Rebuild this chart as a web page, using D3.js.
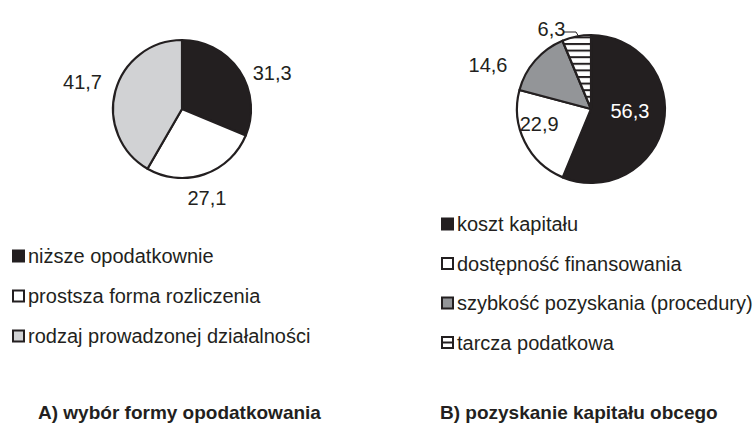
<!DOCTYPE html>
<meta charset="utf-8">
<style type="text/css">
  body { margin: 0; background: #fff; }
  svg text { font-family: "Liberation Sans", Arial, sans-serif; fill: #231f20; }
  .lbl { font-size: 20px; }
  .leg { font-size: 20px; }
  .title { font-weight: bold; font-size: 19px; }
</style>
<svg width="753" height="433"></svg>
<script src="https://d3js.org/d3.v7.min.js"></script>
<script>

var categoriesA = ["niższe opodatkownie", "prostsza forma rozliczenia", "rodzaj prowadzonej działalności"];
var valuesA = [31.3, 27.1, 41.7];
var labelsA = ["31,3", "27,1", "41,7"];

var categoriesB = ["koszt kapitału", "dostępność finansowania", "szybkość pozyskania (procedury)", "tarcza podatkowa"];
var valuesB = [56.3, 22.9, 14.6, 6.3];
var labelsB = ["56,3", "22,9", "14,6", "6,3"];

var titleA = "A) wybór formy opodatkowania";
var titleB = "B) pozyskanie kapitału obcego";

var svg = d3.select("svg");

var defs = svg.append("defs");
var pat = defs.append("pattern")
    .attr("id", "hatch")
    .attr("patternUnits", "userSpaceOnUse")
    .attr("width", 8).attr("height", 6.6);
pat.append("rect").attr("width", 8).attr("height", 6.6).attr("fill", "#fff");
pat.append("rect").attr("y", 0).attr("width", 8).attr("height", 2).attr("fill", "#231f20");

var fillsA = ["#231f20", "#ffffff", "#d1d2d4"];
var fillsB = ["#231f20", "#ffffff", "#939598", "url(#hatch)"];

var pie = d3.pie().sort(null).value(function(d) { return d; });

// label placement: [radius, angle nudge in degrees] per slice
var labPosA = [[97, 12], [92, 3], [103, 0]];
var labPosB = [[39, -8], [54, 10], [112, -18], [89, -15]];

function drawPie(cx, cy, r, values, fills, labels, labPos, inside) {
  var g = svg.append("g").attr("transform", "translate(" + cx + "," + cy + ")");
  var arc = d3.arc().innerRadius(0).outerRadius(r);
  var arcs = pie(values);
  g.selectAll("path")
    .data(arcs)
    .enter().append("path")
      .attr("d", arc)
      .attr("fill", function(d, i) { return fills[i]; })
      .attr("stroke", "#231f20")
      .attr("stroke-width", 2.2)
      .attr("stroke-linejoin", "round");
  g.selectAll("text.lbl")
    .data(arcs)
    .enter().append("text")
      .attr("class", "lbl")
      .attr("text-anchor", "middle")
      .attr("dy", "0.35em")
      .style("fill", function(d, i) { return fills[i] == "#231f20" && inside ? "#fff" : "#231f20"; })
      .attr("transform", function(d, i) {
        var a = (d.startAngle + d.endAngle) / 2 + labPos[i][1] * Math.PI / 180;
        var rr = labPos[i][0];
        return "translate(" + (rr * Math.sin(a)) + "," + (-rr * Math.cos(a)) + ")";
      })
      .text(function(d, i) { return labels[i]; });
  return g;
}

drawPie(182, 109, 69, valuesA, fillsA, labelsA, labPosA, false);
var gB = drawPie(591, 109, 74, valuesB, fillsB, labelsB, labPosB, true);

// leader for the small slice
gB.append("path")
  .attr("d", "M-27,-77 L-15,-77 L-12,-72")
  .attr("fill", "none")
  .attr("stroke", "#231f20")
  .attr("stroke-width", 1);

function drawLegend(x, y0, step, cats, fills) {
  var lg = svg.append("g").attr("transform", "translate(" + x + "," + y0 + ")");
  var row = lg.selectAll("g")
    .data(cats)
    .enter().append("g")
      .attr("transform", function(d, i) { return "translate(0," + (i * step) + ")"; });
  row.append("rect")
    .attr("x", 1).attr("y", -5.5)
    .attr("width", 11).attr("height", 11)
    .attr("fill", function(d, i) { return fills[i].indexOf("url") == 0 ? "#fff" : fills[i]; })
    .attr("stroke", "#231f20")
    .attr("stroke-width", 2);
  row.filter(function(d, i) { return fills[i].indexOf("url") == 0; })
    .append("line")
      .attr("x1", 1).attr("x2", 12).attr("y1", 0).attr("y2", 0)
      .attr("stroke", "#231f20").attr("stroke-width", 2);
  row.append("text")
    .attr("class", "leg")
    .attr("x", 16)
    .attr("dy", "0.35em")
    .text(function(d) { return d; });
}

drawLegend(12, 256, 40, categoriesA, fillsA);
drawLegend(441, 224, 39.5, categoriesB, fillsB);

svg.append("text").attr("class", "title").attr("x", 38).attr("y", 419).text(titleA);
svg.append("text").attr("class", "title").attr("x", 440).attr("y", 419).text(titleB);

</script>
